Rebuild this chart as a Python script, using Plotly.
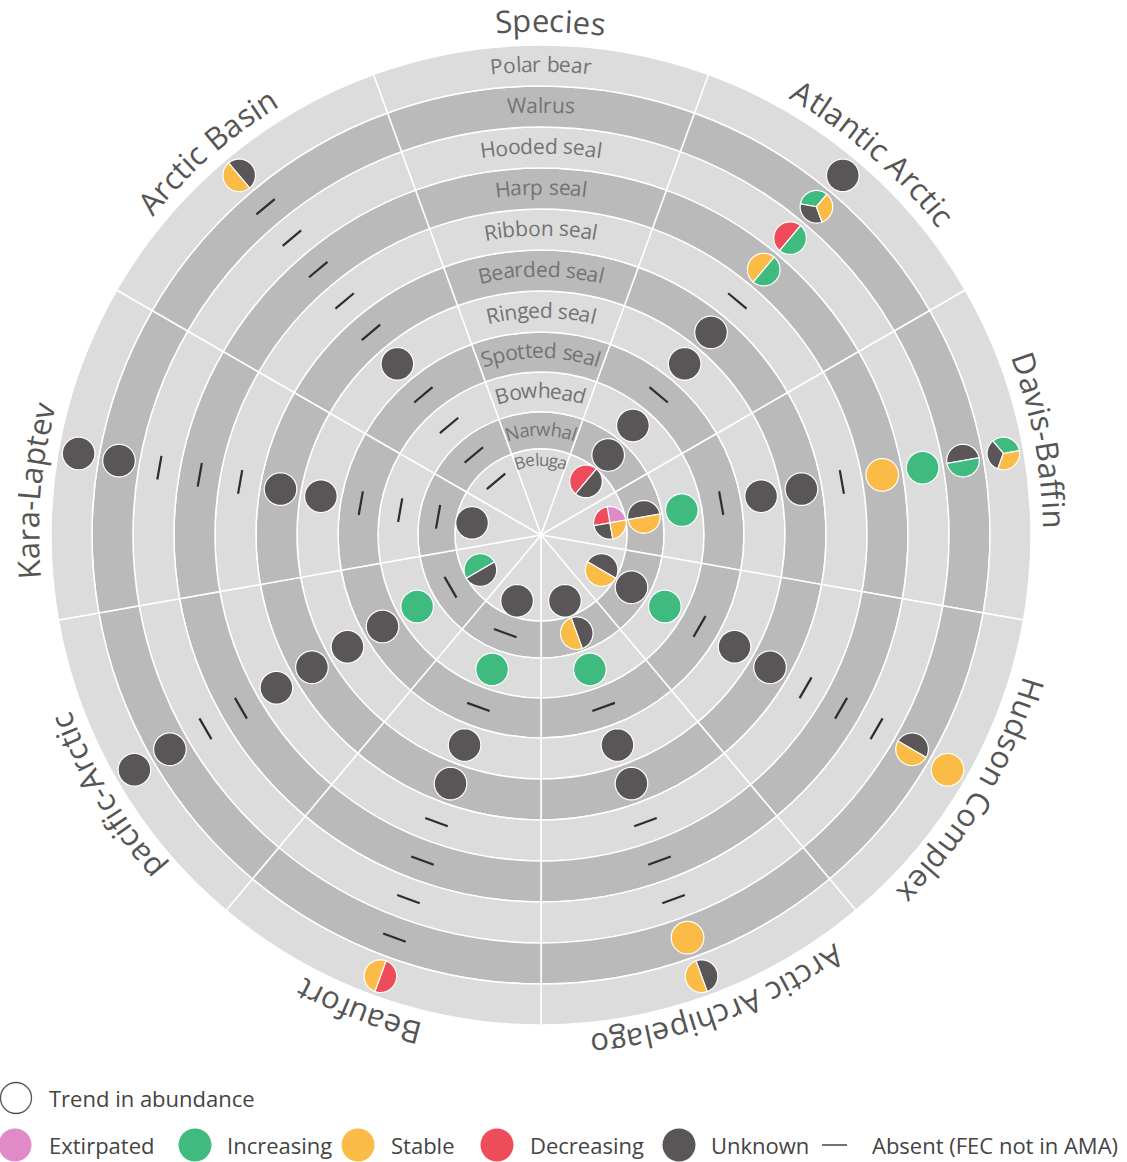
import math
import plotly.graph_objects as go

# ------------------------------------------------------------------ data
regions = ["Atlantic Arctic", "Davis-Baffin", "Hudson Complex", "Arctic Archipelago",
           "Beaufort", "pacific-Arctic", "Kara-Laptev", "Arctic Basin"]
species = ["Beluga", "Narwhal", "Bowhead", "Spotted seal", "Ringed seal", "Bearded seal",
           "Ribbon seal", "Harp seal", "Hooded seal", "Walrus", "Polar bear"]
header = "Species"

# Trend codes per region, ordered Beluga -> Polar bear.
# E extirpated, I increasing, S stable, D decreasing, U unknown, A absent.
# Several letters = marker split between those trends.
atlantic_arctic    = ["DU", "U", "U", "A", "U", "U", "A", "SI", "DI", "IUS", "U"]
davis_baffin       = ["EDUS", "US", "I", "A", "U", "U", "A", "S", "I", "UI", "IUS"]
hudson_complex     = ["US", "U", "I", "A", "U", "U", "A", "A", "A", "US", "S"]
arctic_archipelago = ["U", "US", "I", "A", "U", "U", "A", "A", "A", "S", "US"]
beaufort           = ["U", "A", "I", "A", "U", "U", "A", "A", "A", "A", "DS"]
pacific_arctic     = ["UI", "A", "I", "U", "U", "U", "U", "A", "A", "U", "U"]
kara_laptev        = ["U", "A", "A", "A", "U", "U", "A", "A", "A", "U", "U"]
arctic_basin       = ["A", "A", "A", "A", "U", "A", "A", "A", "A", "A", "SU"]

trend_codes = ["E", "I", "S", "D", "U"]
trend_names = ["Extirpated", "Increasing", "Stable", "Decreasing", "Unknown"]
legend_title = "Trend in abundance"
absent_label = "Absent (FEC not in AMA)"

region_data = [atlantic_arctic, davis_baffin, hudson_complex, arctic_archipelago,
               beaufort, pacific_arctic, kara_laptev, arctic_basin]

# ------------------------------------------------------------------ layout / style
W, H = 1127, 1162
CX, CY = 541, 535          # centre of the wheel in page pixels
RMAX = 500                 # radial axis range == pixels
SECTOR = 40
ring_edges = [0, 86, 123, 163, 203, 244, 285, 326, 367, 408, 449, 490]
mark_r = [70] + [(ring_edges[i] + ring_edges[i + 1]) / 2 for i in range(1, 11)]
label_r = [76] + [m + 2 for m in mark_r[1:]]
label_sizes = [17, 18.5, 21, 21, 21, 21, 21, 21, 21, 21, 21]
region_label_angle = [41, 79.3, 120.7, 159.4, 200.9, 239, 275, 319]
MARK_RAD = 16.3
DASH_LEN = 24
FONT = "Open Sans"

colors = {"E": "#e08bc8", "I": "#40bb7f", "S": "#fbbc47", "D": "#ee4b5b", "U": "#5a5658"}
ring_light, ring_dark = "#dcdcdc", "#bababa"

widths = {' ': 0.26, '-': 0.322, '(': 0.296, ')': 0.296,
          'a': 0.556, 'b': 0.613, 'c': 0.48, 'd': 0.613, 'e': 0.561, 'f': 0.336, 'g': 0.546,
          'h': 0.614, 'i': 0.253, 'j': 0.253, 'k': 0.525, 'l': 0.253, 'm': 0.93, 'n': 0.614,
          'o': 0.601, 'p': 0.613, 'q': 0.613, 'r': 0.408, 's': 0.477, 't': 0.353, 'u': 0.614,
          'v': 0.5, 'w': 0.778, 'x': 0.524, 'y': 0.5, 'z': 0.463,
          'A': 0.633, 'B': 0.647, 'C': 0.631, 'D': 0.73, 'E': 0.556, 'F': 0.516, 'H': 0.738,
          'K': 0.61, 'L': 0.519, 'M': 0.904, 'N': 0.753, 'P': 0.603, 'R': 0.618, 'S': 0.549,
          'W': 0.93}

fig = go.Figure()

# ------------------------------------------------------------------ rings (cells)
thetas = [k * SECTOR for k in range(360 // SECTOR)]
for i in range(len(species)):
    fig.add_trace(go.Barpolar(
        theta=thetas, width=[SECTOR] * len(thetas),
        base=[ring_edges[i]] * len(thetas),
        r=[ring_edges[i + 1] - ring_edges[i]] * len(thetas),
        marker=dict(color=ring_light if i % 2 == 0 else ring_dark,
                    line=dict(color="white", width=1.5)),
        hoverinfo="skip", showlegend=False))


def to_polar(x, y):
    return math.hypot(x, y), math.degrees(math.atan2(x, y)) % 360


# ------------------------------------------------------------------ absent dashes
dr, dt = [], []
for k, codes in enumerate(region_data):
    phi = math.radians((k + 1) * SECTOR)
    for i, code in enumerate(codes):
        if code != "A":
            continue
        x0, y0 = mark_r[i] * math.sin(phi), mark_r[i] * math.cos(phi)
        tx, ty = math.cos(phi), -math.sin(phi)
        for s in (-1, 1):
            r, t = to_polar(x0 + s * DASH_LEN / 2 * tx, y0 + s * DASH_LEN / 2 * ty)
            dr.append(r)
            dt.append(t)
        dr.append(None)
        dt.append(None)
fig.add_trace(go.Scatterpolar(r=dr, theta=dt, mode="lines",
                              line=dict(color="#2d2d2d", width=2.2),
                              hoverinfo="skip", showlegend=False))

# ------------------------------------------------------------------ trend markers (pies)
for k, codes in enumerate(region_data):
    phi_deg = (k + 1) * SECTOR
    phi = math.radians(phi_deg)
    for i, code in enumerate(codes):
        if code == "A":
            continue
        x0, y0 = mark_r[i] * math.sin(phi), mark_r[i] * math.cos(phi)
        n = len(code)
        au = 90 - phi_deg
        for j, c in enumerate(code):
            if n == 1:
                angs = [au + a for a in range(0, 361, 5)]
                pts = [(x0 + MARK_RAD * math.cos(math.radians(a)),
                        y0 + MARK_RAD * math.sin(math.radians(a))) for a in angs]
            else:
                a0 = au + j * 360 / n
                steps = int(360 / n / 5) + 1
                angs = [a0 + (360 / n) * s / steps for s in range(steps + 1)]
                pts = [(x0, y0)] + [(x0 + MARK_RAD * math.cos(math.radians(a)),
                                     y0 + MARK_RAD * math.sin(math.radians(a))) for a in angs] + [(x0, y0)]
            pr, pt = zip(*[to_polar(px, py) for px, py in pts])
            fig.add_trace(go.Scatterpolar(r=list(pr), theta=list(pt), mode="lines",
                                          fill="toself", fillcolor=colors[c],
                                          line=dict(color="white", width=1.2),
                                          hoverinfo="skip", showlegend=False))

# ------------------------------------------------------------------ curved text
annotations = []


def arc_text(text, r, phi_c, size, color, spacing=1.0):
    advs = [widths.get(ch, 0.58) * size * spacing for ch in text]
    total = sum(advs)
    start = math.radians(phi_c) - (total / r) / 2
    cum = 0.0
    for ch, a in zip(text, advs):
        ang = start + (cum + a / 2) / r
        cum += a
        if ch == " ":
            continue
        deg = math.degrees(ang) % 360
        if deg > 180:
            deg -= 360
        annotations.append(dict(
            x=CX + r * math.sin(ang), y=CY - r * math.cos(ang), xref="x", yref="y",
            text=ch, showarrow=False, textangle=deg, xanchor="center", yanchor="middle",
            font=dict(family=FONT, size=size, color=color)))


arc_text(header, 515, 1, 31, "#555555", 1.03)
for name, ang in zip(regions, region_label_angle):
    arc_text(name, 514, ang, 31, "#555555", 1.04)
for i, sp in enumerate(species):
    arc_text(sp, label_r[i], 0, label_sizes[i], "#737373")

# ------------------------------------------------------------------ legend
legend_circle_x = [15, 195, 358, 497, 679]
legend_text_x = [47, 225, 389, 528, 709]
ROW1, ROW2 = 1098, 1145
fig.add_trace(go.Scatter(x=[16], y=[ROW1], mode="markers",
                         marker=dict(size=31, color="white", line=dict(color="#555555", width=1.3)),
                         hoverinfo="skip", showlegend=False))
fig.add_trace(go.Scatter(x=legend_circle_x, y=[ROW2] * len(trend_codes), mode="markers",
                         marker=dict(size=33, color=[colors[c] for c in trend_codes],
                                     line=dict(width=0)),
                         hoverinfo="skip", showlegend=False))
fig.add_trace(go.Scatter(x=[822, 847], y=[ROW2, ROW2], mode="lines",
                         line=dict(color="#444444", width=1.5),
                         hoverinfo="skip", showlegend=False))
annotations.append(dict(x=47, y=ROW1, xref="x", yref="y", text=legend_title, showarrow=False,
                        xanchor="left", yanchor="middle",
                        font=dict(family=FONT, size=22, color="#444444")))
for tx, name in zip(legend_text_x, trend_names):
    annotations.append(dict(x=tx, y=ROW2, xref="x", yref="y", text=name, showarrow=False,
                            xanchor="left", yanchor="middle",
                            font=dict(family=FONT, size=22, color="#444444")))
annotations.append(dict(x=870, y=ROW2, xref="x", yref="y", text=absent_label, showarrow=False,
                        xanchor="left", yanchor="middle",
                        font=dict(family=FONT, size=22, color="#444444")))

fig.update_layout(
    width=W, height=H, margin=dict(l=0, r=0, t=0, b=0),
    paper_bgcolor="white", plot_bgcolor="white", showlegend=False,
    xaxis=dict(domain=[0, 1], range=[0, W], visible=False, fixedrange=True),
    yaxis=dict(domain=[0, 1], range=[H, 0], visible=False, fixedrange=True),
    polar=dict(
        domain=dict(x=[(CX - RMAX) / W, (CX + RMAX) / W],
                    y=[1 - (CY + RMAX) / H, 1 - (CY - RMAX) / H]),
        bgcolor="rgba(0,0,0,0)", barmode="overlay", hole=0,
        radialaxis=dict(range=[0, RMAX], visible=False),
        angularaxis=dict(visible=False, direction="clockwise", rotation=90),
    ),
    annotations=annotations,
)

fig.write_html("out.html", config={"displayModeBar": False},
               post_script="document.body.style.margin='0';document.body.style.overflow='hidden';")
